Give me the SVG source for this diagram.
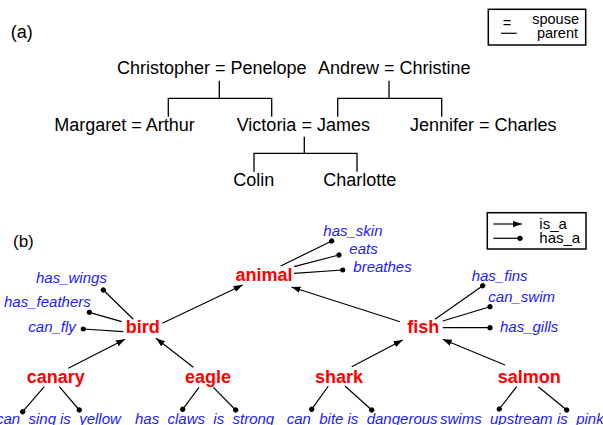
<svg xmlns="http://www.w3.org/2000/svg" width="603" height="425" viewBox="0 0 603 425">
<style>
.fam{font-family:"Liberation Sans",Arial,sans-serif;font-size:18px;fill:#000}
.leg{font-family:"Liberation Sans",Arial,sans-serif;font-size:14.5px;fill:#000}
.leg2{font-family:"Liberation Sans",Arial,sans-serif;font-size:15px;fill:#000}
.node{font-family:"Liberation Sans",Arial,sans-serif;font-size:18px;font-weight:bold;fill:#ff0000}
.attr{font-family:"Liberation Sans",Arial,sans-serif;font-size:15px;font-style:italic;fill:#2020ff}
.tree{fill:none;stroke:#000;stroke-width:1.3}
.isa{fill:none;stroke:#000;stroke-width:1.2;marker-end:url(#arrow)}
.hasa{fill:none;stroke:#000;stroke-width:1.2;marker-end:url(#dot)}
.box{fill:none;stroke:#000;stroke-width:1.5}
</style>
<defs>
<marker id="arrow" markerUnits="userSpaceOnUse" markerWidth="10" markerHeight="7" refX="9" refY="3.25" orient="auto" viewBox="0 0 10 7">
<path d="M0,0 L9,3.25 L0,6.5 z" fill="#000"/>
</marker>
<marker id="dot" markerUnits="userSpaceOnUse" markerWidth="6" markerHeight="6" refX="3" refY="3" orient="auto" viewBox="0 0 6 6">
<circle cx="3" cy="3" r="2.6" fill="#000"/>
</marker>
</defs>

<!-- Part (a) -->
<text class="fam" x="10.7" y="38">(a)</text>
<g id="legend-a">
<rect class="box" x="488.3" y="9.3" width="97.4" height="35.7"/>
<text class="leg" x="507" y="27.5" text-anchor="middle">=</text>
<line x1="501" y1="33.3" x2="516.7" y2="33.3" stroke="#000" stroke-width="1.2"/>
<text class="leg" x="579" y="24" text-anchor="end">spouse</text>
<text class="leg" x="578" y="37.5" text-anchor="end">parent</text>
</g>
<g id="christopher-penelope"><text class="fam" x="117" y="73.5">Christopher = Penelope</text></g>
<g id="andrew-christine"><text class="fam" x="318" y="73.5">Andrew = Christine</text></g>
<g id="margaret-arthur"><text class="fam" x="54.3" y="131">Margaret = Arthur</text></g>
<g id="victoria-james"><text class="fam" x="236.7" y="131">Victoria = James</text></g>
<g id="jennifer-charles"><text class="fam" x="410" y="131">Jennifer = Charles</text></g>
<g id="colin"><text class="fam" x="233.3" y="186">Colin</text></g>
<g id="charlotte"><text class="fam" x="323.3" y="186">Charlotte</text></g>
<g id="tree-connectors">
<path class="tree" d="M219.3,80.7 V98.3 M168.3,116.7 V98.3 H271.7 V116.7"/>
<path class="tree" d="M389,80.7 V98.3 M337.7,116.7 V98.3 H441.7 V116.7"/>
<path class="tree" d="M304.3,136.7 V153.3 M254,171.7 V153.3 H357 V171.7"/>
</g>

<!-- Part (b) -->
<text class="fam" x="13" y="247" style="font-size:17px">(b)</text>
<g id="legend-b">
<rect class="box" x="487.3" y="212.7" width="98.7" height="36.3"/>
<line class="isa" x1="493.3" y1="224" x2="521.7" y2="224"/>
<line class="hasa" x1="493.3" y1="238.3" x2="520" y2="238.3"/>
<text class="leg2" x="539.3" y="228.5">is_a</text>
<text class="leg2" x="539.3" y="242.7">has_a</text>
</g>

<g id="semantic-connectors">
<line class="isa" x1="162.3" y1="323.3" x2="242.7" y2="285"/>
<line class="isa" x1="400" y1="321.7" x2="291.5" y2="287"/>
<line class="isa" x1="68.3" y1="368.3" x2="125" y2="339.3"/>
<line class="isa" x1="193.3" y1="367.3" x2="156" y2="338.3"/>
<line class="isa" x1="351.7" y1="366.7" x2="402.7" y2="340"/>
<line class="isa" x1="505" y1="365" x2="442.7" y2="339.3"/>

<line class="hasa" x1="280.7" y1="266" x2="331.7" y2="241"/>
<line class="hasa" x1="294" y1="266.7" x2="339" y2="255"/>
<line class="hasa" x1="294" y1="273.3" x2="342.7" y2="270"/>

<line class="hasa" x1="133.3" y1="319.3" x2="103.3" y2="290"/>
<line class="hasa" x1="121.7" y1="321.7" x2="89.3" y2="312.3"/>
<line class="hasa" x1="123.3" y1="331.7" x2="83.3" y2="329"/>

<line class="hasa" x1="435" y1="319.3" x2="482.7" y2="285.7"/>
<line class="hasa" x1="442.7" y1="321" x2="490" y2="306.7"/>
<line class="hasa" x1="442.7" y1="327.7" x2="490" y2="327.7"/>

<line class="hasa" x1="44.3" y1="386.7" x2="22.7" y2="411.7"/>
<line class="hasa" x1="59.3" y1="386.7" x2="79.3" y2="410"/>
<line class="hasa" x1="199" y1="387.3" x2="182.7" y2="409.3"/>
<line class="hasa" x1="213.3" y1="387.3" x2="235.7" y2="410"/>
<line class="hasa" x1="328.3" y1="386" x2="311.7" y2="409.3"/>
<line class="hasa" x1="345" y1="386" x2="371.7" y2="410"/>
<line class="hasa" x1="516.7" y1="386.7" x2="499.3" y2="409"/>
<line class="hasa" x1="538.3" y1="386.7" x2="566.7" y2="410"/>
</g>

<g id="animal"><text class="node" x="235.5" y="280.5">animal</text></g>
<g id="bird"><text class="node" x="125.7" y="333.3">bird</text></g>
<g id="fish"><text class="node" x="407.3" y="333.3">fish</text></g>
<g id="canary"><text class="node" x="26.7" y="383.3">canary</text></g>
<g id="eagle"><text class="node" x="185" y="383.3">eagle</text></g>
<g id="shark"><text class="node" x="315" y="383">shark</text></g>
<g id="salmon"><text class="node" x="497.7" y="383">salmon</text></g>

<g id="has_skin"><text class="attr" x="323.3" y="235.7">has_skin</text></g>
<g id="eats"><text class="attr" x="349.3" y="254">eats</text></g>
<g id="breathes"><text class="attr" x="353.3" y="271.7">breathes</text></g>
<g id="has_wings"><text class="attr" x="36" y="282.7">has_wings</text></g>
<g id="has_feathers"><text class="attr" x="4" y="307.3">has_feathers</text></g>
<g id="can_fly"><text class="attr" x="28.3" y="331.7">can_fly</text></g>
<g id="has_fins"><text class="attr" x="471.7" y="280.7">has_fins</text></g>
<g id="can_swim"><text class="attr" x="488.3" y="301.7">can_swim</text></g>
<g id="has_gills"><text class="attr" x="500" y="331.7">has_gills</text></g>
<g id="can_sing"><text class="attr" x="-4" y="424">can_sing</text></g>
<g id="is_yellow"><text class="attr" x="60" y="424">is_yellow</text></g>
<g id="has_claws"><text class="attr" x="135" y="424">has_claws</text></g>
<g id="is_strong"><text class="attr" x="213.3" y="424">is_strong</text></g>
<g id="can_bite"><text class="attr" x="286.7" y="424">can_bite</text></g>
<g id="is_dangerous"><text class="attr" x="347.5" y="424">is_dangerous</text></g>
<g id="swims_upstream"><text class="attr" x="440" y="424">swims_upstream</text></g>
<g id="is_pink"><text class="attr" x="557" y="424">is_pink</text></g>
</svg>
